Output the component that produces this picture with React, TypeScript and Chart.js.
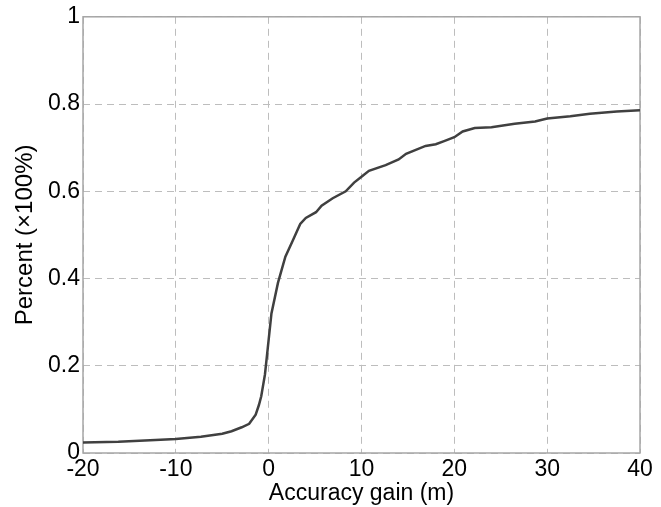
import React, { useEffect, useRef } from "react";
import { Chart, registerables } from "chart.js";

Chart.register(...registerables);

const gainX = [-20, -16.2, -12.2, -10, -7.3, -5, -4, -2.9, -2.1, -1.4, -1.05, -0.8, -0.4, -0.1, 0.3, 1.0, 1.8, 2.6, 3.4, 4.0, 5.1, 5.7, 6.9, 8.3, 9.2, 10.1, 10.8, 12.6, 14.0, 14.8, 16.9, 18.0, 18.9, 20.0, 20.9, 22.2, 24.0, 26.5, 28.7, 30.0, 32.5, 34.6, 37.5, 40];
const percentY = [0.024, 0.026, 0.030, 0.032, 0.037, 0.044, 0.050, 0.059, 0.067, 0.088, 0.11, 0.13, 0.18, 0.24, 0.32, 0.39, 0.45, 0.487, 0.525, 0.539, 0.552, 0.567, 0.584, 0.600, 0.620, 0.635, 0.647, 0.660, 0.673, 0.686, 0.704, 0.708, 0.715, 0.724, 0.737, 0.745, 0.747, 0.755, 0.760, 0.767, 0.772, 0.778, 0.783, 0.786];

const xTitle = "Accuracy gain (m)";
const yTitle = "Percent (\u00d7100%)";

const FONT = "'Liberation Sans', Arial, Helvetica, sans-serif";

const frame = {
  id: "frame",
  beforeDatasetsDraw(chart: any) {
    const { ctx, chartArea } = chart;
    ctx.save();
    ctx.strokeStyle = "#a6a6a6";
    ctx.lineWidth = 1.5;
    ctx.setLineDash([]);
    ctx.strokeRect(chartArea.left, chartArea.top, chartArea.right - chartArea.left, chartArea.bottom - chartArea.top);
    ctx.restore();
  },
};

export default function App() {
  const ref = useRef<HTMLCanvasElement>(null);
  useEffect(() => {
    if (!ref.current) return;
    const data = gainX.map((x, i) => ({ x, y: percentY[i] }));
    const chart = new Chart(ref.current, {
      type: "line",
      data: {
        datasets: [
          {
            data,
            borderColor: "#404040",
            borderWidth: 2.5,
            pointRadius: 0,
            tension: 0,
            fill: false,
          },
        ],
      },
      options: {
        animation: false,
        responsive: false,
        devicePixelRatio: 1,
        layout: { padding: { left: 0, top: 15, right: 21, bottom: 0 } },
        plugins: { legend: { display: false }, tooltip: { enabled: false } },
        scales: {
          x: {
            type: "linear",
            min: -20,
            max: 40,
            ticks: { stepSize: 10, color: "#000", font: { family: FONT, size: 23 }, padding: 3, maxRotation: 0 },
            grid: { color: "#bdbdbd", drawTicks: false, lineWidth: 1 },
            border: { display: false, dash: [7, 5] },
            title: { display: true, text: xTitle, color: "#000", font: { family: FONT, size: 23 }, padding: { top: 0, bottom: 0 } },
            afterFit(scale: any) {
              scale.height = 54;
            },
          },
          y: {
            type: "linear",
            min: 0,
            max: 1,
            ticks: {
              stepSize: 0.2,
              color: "#000",
              font: { family: FONT, size: 23 },
              padding: 3,
              callback: (v: any) => String(Math.round(Number(v) * 10) / 10),
            },
            grid: { color: "#bdbdbd", drawTicks: false, lineWidth: 1 },
            border: { display: false, dash: [7, 5] },
            title: { display: true, text: yTitle, color: "#000", font: { family: FONT, size: 24 }, padding: { top: 11, bottom: 0 } },
            afterFit(scale: any) {
              scale.width = 83;
            },
          },
        },
      },
      plugins: [frame],
    });
    return () => chart.destroy();
  }, []);
  return (
    <div style={{ position: "fixed", left: 0, top: 0, width: 661, height: 507, background: "#fff" }}>
      <canvas ref={ref} width={661} height={507} />
    </div>
  );
}
